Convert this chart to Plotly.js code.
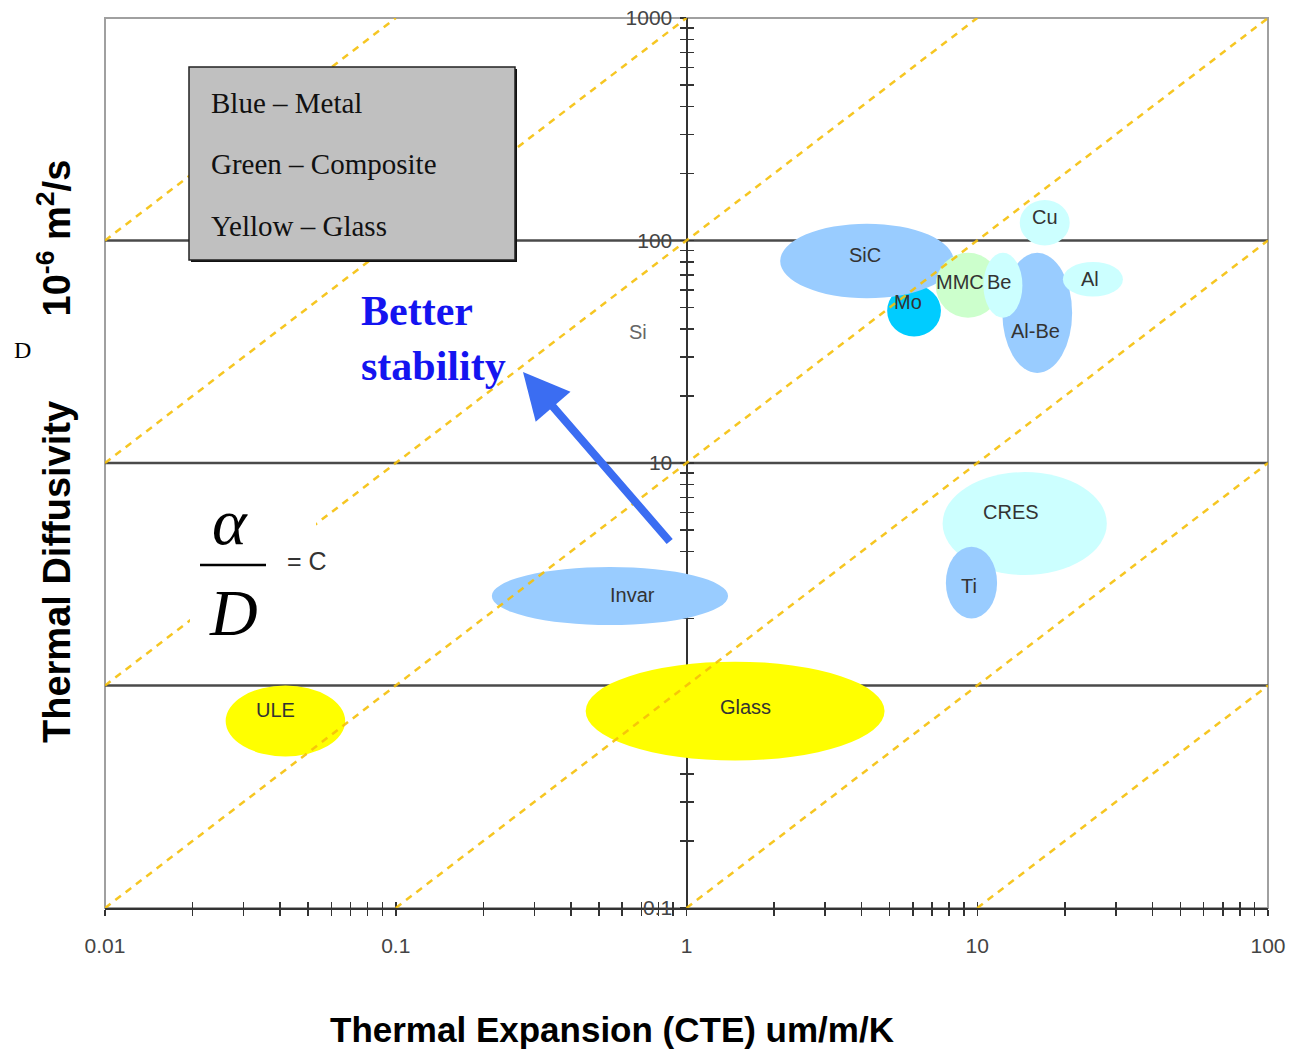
<!DOCTYPE html>
<html><head><meta charset="utf-8">
<script src="https://cdn.plot.ly/plotly-3.0.1.min.js"></script>
<style>html,body{margin:0;padding:0;background:#fff}#chart{width:1296px;height:1051px}</style>
</head><body><div id="chart"></div>
<script>
// ---- data ----
const materials = ['Mo','SiC','MMC','Al-Be','Be','Cu','Al','CRES','Ti','Invar','Glass','ULE'];
const materialClass = ['MetalMo','Metal','Composite','Metal','MetalLight','MetalLight','MetalLight','MetalLight','Metal','Metal','Glass','Glass'];
const cteLow  = [4.9, 2.1, 7.2, 12.2, 10.5, 14.0, 19.7, 7.6, 7.8, 0.214, 0.45, 0.026];
const cteHigh = [7.5, 8.3, 12.0, 21.2, 14.3, 20.8, 31.7, 27.9, 11.7, 1.39, 4.8, 0.067];
const diffLow  = [37, 55, 45, 25.4, 45, 95, 56, 3.14, 2.0, 1.87, 0.46, 0.48];
const diffHigh = [63, 119, 88, 88, 88, 152, 80, 9.1, 4.2, 3.41, 1.28, 1.0];
const labelNames = ['SiC','Mo','MMC','Be','Al-Be','Cu','Al','CRES','Ti','Invar','Glass','ULE','Si'];
const labelCTE   = [4.1, 5.8, 8.7, 11.9, 15.8, 17.1, 24.4, 13.1, 9.4, 0.65, 1.6, 0.0385, 0.68];
const labelDiff  = [86, 53, 65, 65, 39, 128, 67, 6.0, 2.8, 2.55, 0.80, 0.78, 38.8];
const ratioConstants = [10000, 1000, 100, 10, 1, 0.1, 0.01];   // D = k * alpha
const xDecades = [0.01, 0.1, 1, 10, 100];
const xDecadeLabels = ['0.01','0.1','1','10','100'];
const yDecades = [0.1, 1, 10, 100, 1000];
const yDecadeLabels = ['0.1','','10','100','1000'];
const gridDecades = [1, 10, 100];
const legendLines = ['Blue \u2013 Metal','Green \u2013 Composite','Yellow \u2013 Glass'];

// ---- styles ----
const classColor = {Metal:'#99ccff', MetalLight:'#ccffff', MetalMo:'#00ccff', Composite:'#ccffcc', Glass:'#ffff00'};
const W = 1296, H = 1051, M = {l:105, r:28, t:18, b:143};
const PW = W - M.l - M.r, PH = H - M.t - M.b;
const px = v => (v - M.l) / PW;
const py = v => 1 - (v - M.t) / PH;
const sans = 'Liberation Sans, Arial, sans-serif';
const serif = 'Liberation Serif, Times New Roman, serif';

function ticks(decs, labels){
  const vals = [], text = [];
  decs.forEach((d,i) => {
    if (i === decs.length - 1) { vals.push(d); text.push(labels[i]); return; }
    for (let m = 1; m <= 9; m++) { vals.push(m*d); text.push(m === 1 ? labels[i] : ''); }
  });
  return {vals, text};
}
const xt = ticks(xDecades, xDecadeLabels), yt = ticks(yDecades, yDecadeLabels);

const shapes = [];
shapes.push({type:'rect', xref:'paper', yref:'paper', x0:0, x1:1, y0:0, y1:1, line:{color:'#a0a0a0', width:2}, layer:'below'});
gridDecades.forEach(v => shapes.push({type:'line', xref:'paper', x0:0, x1:1, yref:'y', y0:v, y1:v, line:{color:'#4a4a4a', width:2.5}, layer:'below'}));
materials.forEach((m,i) => shapes.push({type:'circle', xref:'x', yref:'y', x0:cteLow[i], x1:cteHigh[i], y0:diffLow[i], y1:diffHigh[i],
  fillcolor:classColor[materialClass[i]], line:{width:0}, layer:'above'}));
const xr = [xDecades[0], xDecades[xDecades.length-1]], yr = [yDecades[0], yDecades[yDecades.length-1]];
ratioConstants.forEach(k => {
  const a0 = Math.max(xr[0], yr[0]/k), a1 = Math.min(xr[1], yr[1]/k);
  if (a1 <= a0) return;
  shapes.push({type:'line', xref:'x', yref:'y', x0:a0, y0:k*a0, x1:a1, y1:k*a1,
    line:{color:'rgba(245,192,10,0.9)', width:2.5, dash:'7px,6px'}, layer:'above'});
});
shapes.push({type:'rect', xref:'paper', yref:'paper', x0:px(191), x1:px(517), y0:py(262), y1:py(69), fillcolor:'#111', line:{width:0}, layer:'above'});
shapes.push({type:'rect', xref:'paper', yref:'paper', x0:px(189), x1:px(515), y0:py(260), y1:py(67), fillcolor:'#c0c0c0', line:{color:'#222', width:1.5}, layer:'above'});
shapes.push({type:'rect', xref:'paper', yref:'paper', x0:px(190), x1:px(316), y0:py(652), y1:py(476), fillcolor:'#ffffff', line:{width:0}, layer:'above'});
shapes.push({type:'line', xref:'paper', yref:'paper', x0:px(200), x1:px(266), y0:py(565), y1:py(565), line:{color:'#000', width:2.5}, layer:'above'});

const annotations = [];
const P = (x, y, text, font, extra) => Object.assign({xref:'paper', yref:'paper', x:px(x), y:py(y), xanchor:'center', yanchor:'middle', text, showarrow:false, font}, extra || {});
labelNames.forEach((n,i) => annotations.push({xref:'x', yref:'y', x:Math.log10(labelCTE[i]), y:Math.log10(labelDiff[i]), xanchor:'center', yanchor:'middle', text:n, showarrow:false,
  font:{family:sans, size:20, color: n === 'Si' ? '#666' : '#333'}}));
legendLines.forEach((t,i) => annotations.push(P(209, [103,164,226][i], t, {family:serif, size:29, color:'#111'}, {xanchor:'left'})));
annotations.push(P(359, 338, '<b>Better<br>stability</b>', {family:serif, size:42, color:'#1414f0'}, {xanchor:'left', align:'left'}));
annotations.push({xref:'paper', yref:'paper', x:px(523), y:py(372), ax:148, ay:171, text:'', showarrow:true, arrowhead:2, arrowsize:1.15, arrowwidth:8, arrowcolor:'#3b6df2'});
annotations.push(P(230, 521, '<i>\u03b1</i>', {family:serif, size:66, color:'#000'}));
annotations.push(P(233, 612, '<i>D</i>', {family:serif, size:66, color:'#000'}));
annotations.push(P(307, 561, '= C', {family:sans, size:25, color:'#333'}));
annotations.push(P(54, 452, '<b>Thermal Diffusivity&nbsp;&nbsp;&nbsp;&nbsp;&nbsp;&nbsp;&nbsp; 10<sup>-6</sup> m<sup>2</sup>/s</b>', {family:sans, size:38, color:'#000'}, {textangle:-90}));
annotations.push(P(22, 350, 'D', {family:serif, size:24, color:'#000'}));
annotations.push(P(612, 1029, '<b>Thermal Expansion (CTE) um/m/K</b>', {family:sans, size:35, color:'#000'}));

const tickStyle = {tickcolor:'#333', tickwidth:1.5, ticklen:6};
const layout = {
  width:W, height:H, margin:M, paper_bgcolor:'#fff', plot_bgcolor:'#fff', showlegend:false,
  xaxis:Object.assign({type:'log', range:[-2,2], anchor:'y', showline:true, linecolor:'#333', linewidth:2, ticks:'outside',
    tickvals:xt.vals, ticktext:xt.text, tickfont:{family:sans, size:21, color:'#444'}, ticklabelstandoff:12, showgrid:false, zeroline:false}, tickStyle),
  xaxis2:Object.assign({type:'log', range:[-2,2], overlaying:'x', anchor:'y', side:'bottom', ticks:'inside', tickvals:xt.vals,
    showticklabels:false, showgrid:false, zeroline:false, showline:false}, tickStyle),
  yaxis:Object.assign({type:'log', range:[-1,3], anchor:'free', position:0.5, side:'left', showline:true, linecolor:'#333', linewidth:2, ticks:'outside',
    tickvals:yt.vals, ticktext:yt.text, tickfont:{family:sans, size:21, color:'#444'}, ticklabelstandoff:3, showgrid:false, zeroline:false}, tickStyle),
  yaxis2:Object.assign({type:'log', range:[-1,3], overlaying:'y', anchor:'free', position:0.5, side:'left', ticks:'inside', tickvals:yt.vals,
    showticklabels:false, showgrid:false, zeroline:false, showline:false}, tickStyle),
  shapes, annotations
};
const traces = [
  {type:'scatter', mode:'markers', x:[], y:[], xaxis:'x', yaxis:'y', hoverinfo:'skip'},
  {type:'scatter', mode:'markers', x:[], y:[], xaxis:'x2', yaxis:'y2', hoverinfo:'skip'}
];
Plotly.newPlot('chart', traces, layout, {staticPlot:true});
</script></body></html>
